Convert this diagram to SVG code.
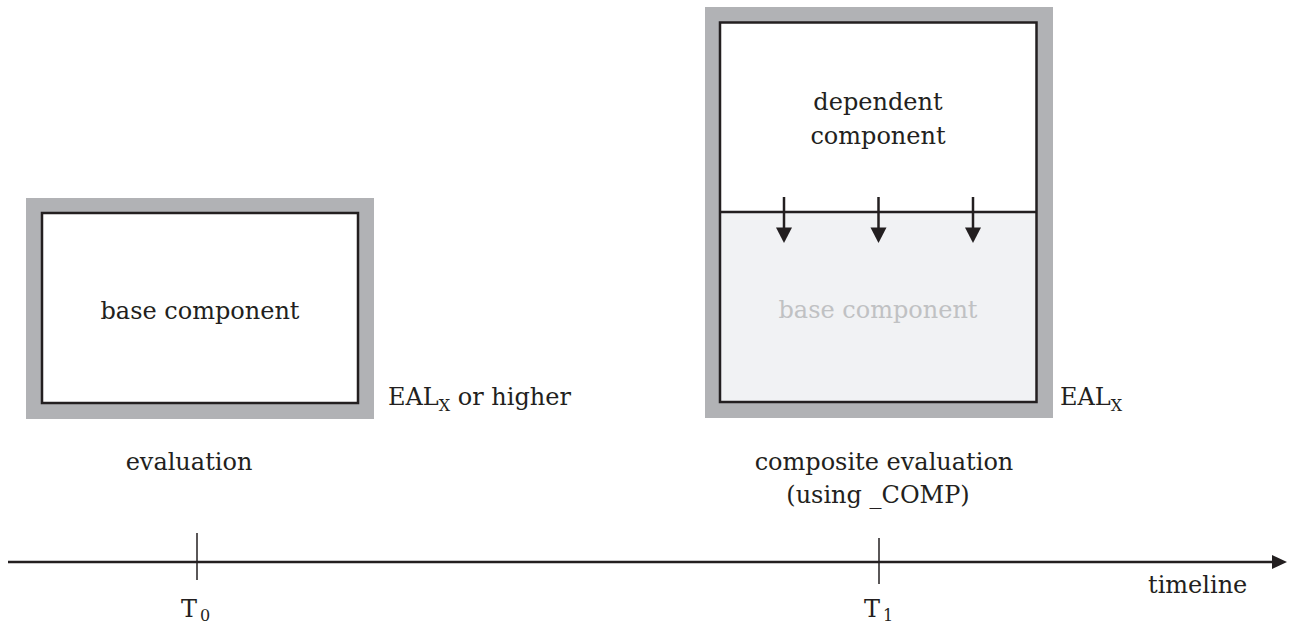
<svg xmlns="http://www.w3.org/2000/svg" width="1289" height="628" viewBox="0 0 1289 628">
<style>
.t{font-family:"DejaVu Serif","Liberation Serif",serif;font-size:24px;fill:#231f20}
.c{text-anchor:middle}
.frame{fill:#b1b2b5}
.box{stroke:#231f20;stroke-width:2.5}
.ln{stroke:#231f20;fill:none}
</style>
<defs>
<marker id="ah" markerWidth="16" markerHeight="16" refX="8" refY="15" viewBox="0 0 16 16" markerUnits="userSpaceOnUse" orient="auto-start-reverse">
<path d="M0,0 L16,0 L8,15 Z" fill="#231f20" transform="rotate(0)"/>
</marker>
</defs>
<rect width="1289" height="628" fill="#fff"/>
<g id="base-eval">
<rect class="frame" x="26" y="198" width="348" height="221"/>
<rect class="box" x="42" y="213" width="316" height="190" fill="#fff"/>
<text class="t c" x="200" y="319">base component</text>
<text class="t" x="388" y="405">EAL<tspan font-size="16" dy="6">X</tspan><tspan dy="-6"> or higher</tspan></text>
<text class="t c" x="189" y="470">evaluation</text>
</g>
<g id="composite-eval">
<rect class="frame" x="705" y="7" width="348" height="411"/>
<rect x="720" y="22.5" width="316.5" height="189.5" fill="#fff"/>
<rect x="720" y="212" width="316.5" height="190" fill="#f1f2f4"/>
<rect class="box" x="720" y="22.5" width="316.5" height="379.5" fill="none"/>
<line class="ln" x1="720" y1="212" x2="1036.5" y2="212" stroke-width="2.5"/>
<text class="t c" x="878" y="110">dependent</text>
<text class="t c" x="878" y="144">component</text>
<text class="t c" x="878" y="318" fill="#c0c1c3" style="fill:#c0c1c3">base component</text>
<text class="t" x="1060" y="405">EAL<tspan font-size="16" dy="6">X</tspan></text>
<text class="t c" x="884" y="470">composite evaluation</text>
<text class="t c" x="878" y="503">(using _COMP)</text>
</g>
<g id="connectors">
<g class="ln" stroke-width="2.5">
<line x1="784" y1="197" x2="784" y2="230"/>
<line x1="878.5" y1="197" x2="878.5" y2="230"/>
<line x1="973" y1="197" x2="973" y2="230"/>
</g>
<g fill="#231f20">
<path d="M776,227.5 L792,227.5 L784,243 Z"/>
<path d="M870.5,227.5 L886.5,227.5 L878.5,243 Z"/>
<path d="M965,227.5 L981,227.5 L973,243 Z"/>
</g>
</g>
<g id="timeline">
<line class="ln" x1="8" y1="562" x2="1274" y2="562" stroke-width="2.5"/>
<path d="M1272,555 L1287,562 L1272,569 Z" fill="#231f20"/>
<line class="ln" x1="197" y1="533" x2="197" y2="580" stroke-width="1.5"/>
<line class="ln" x1="879" y1="538" x2="879" y2="584" stroke-width="1.5"/>
<text class="t" x="181" y="617">T<tspan font-size="16" dy="4" dx="3">0</tspan></text>
<text class="t" x="864" y="617">T<tspan font-size="16" dy="4" dx="3">1</tspan></text>
<text class="t" x="1148" y="593">timeline</text>
</g>
</svg>
